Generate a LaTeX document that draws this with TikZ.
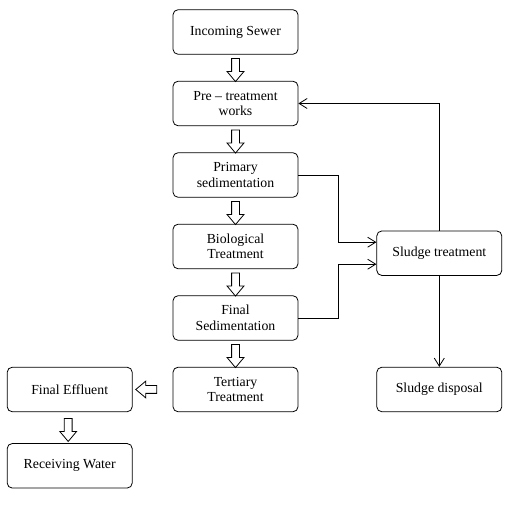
\documentclass[tikz,border=0pt]{standalone}
\usepackage{fontspec}
\setmainfont{Liberation Serif}
\usetikzlibrary{shapes.arrows,arrows.meta,positioning,calc}

\begin{document}
\begin{tikzpicture}[x=1pt, y=1pt,
    stage/.style={draw, line width=0.8pt, rounded corners=5pt, minimum width=125pt, minimum height=44.5pt, align=center, inner sep=2pt, font=\rmfamily\fontsize{13.8}{15.5}\selectfont},
    flow/.style={draw, line width=0.8pt, single arrow, single arrow head extend=4.5pt, single arrow tip angle=80, minimum height=23pt, minimum width=0pt, inner xsep=0pt, inner ysep=3.5pt},
    link/.style={line width=0.8pt, -{Straight Barb[length=8pt,width=10pt]}}]
        \useasboundingbox (0,0) rectangle (512,506);
        % Treatment stages
        \node[stage] (sewer) at (235.5,474) {Incoming Sewer};
        \node[stage, below=26.2pt of sewer] (pre) {Pre -- treatment\\works};
        \node[stage, below=26.2pt of pre] (primary) {Primary\\sedimentation};
        \node[stage, below=26.2pt of primary] (bio) {Biological\\Treatment};
        \node[stage, below=26.2pt of bio] (finalsed) {Final\\Sedimentation};
        \node[stage, below=26.2pt of finalsed] (tertiary) {Tertiary\\Treatment};
        % Effluent side
        \node[stage, left=40pt of tertiary] (effluent) {Final Effluent};
        \node[stage, below=31pt of effluent] (receiving) {Receiving Water};
        % Sludge side
        \node[stage, right=78pt of tertiary] (disposal) {Sludge disposal};
        \node[stage, above=91pt of disposal] (sludge) {Sludge treatment};
        % Hollow flow arrows
        \node[flow, rotate=-90] (flow1) at ($(sewer.south)!0.5!(pre.north)$) {};
        \node[flow, rotate=-90] (flow2) at ($(pre.south)!0.5!(primary.north)$) {};
        \node[flow, rotate=-90] (flow3) at ($(primary.south)!0.5!(bio.north)$) {};
        \node[flow, rotate=-90] (flow4) at ($(bio.south)!0.5!(finalsed.north)$) {};
        \node[flow, rotate=-90] (flow5) at ($(finalsed.south)!0.5!(tertiary.north)$) {};
        \node[flow, rotate=180, minimum height=21pt] (flow6) at ($(tertiary.west)!0.5!(effluent.east)+(-4,0)$) {};
        \node[flow, rotate=-90] (flow7) at ($(effluent.south)!0.5!(receiving.north)+(-1.5,0)$) {};
        % Sludge lines
        \draw[link] (primary.east) -- ++(40,0) |- ([yshift=11pt]sludge.west);
        \draw[link] (finalsed.east) -- ++(40,0) |- ([yshift=-11pt]sludge.west);
        \draw[link] (sludge.north) |- (pre.east);
        \draw[link] (sludge) -- (disposal);
\end{tikzpicture}
\end{document}
